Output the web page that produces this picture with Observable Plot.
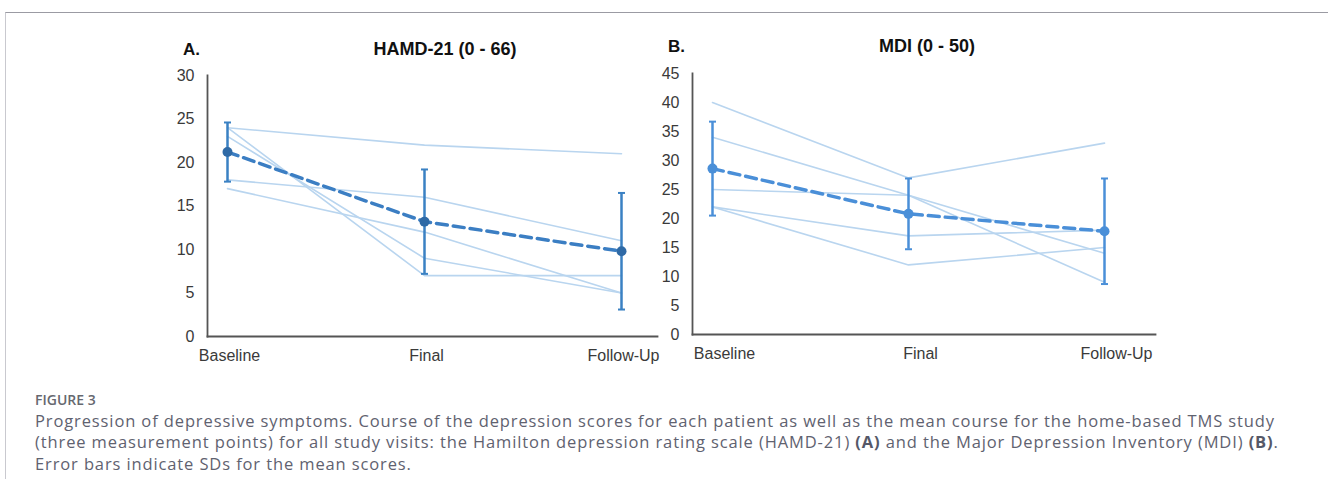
<!DOCTYPE html>
<html>
<head>
<meta charset="utf-8">
<script src="https://cdn.jsdelivr.net/npm/d3@7"></script>
<script src="https://cdn.jsdelivr.net/npm/@observablehq/plot@0.6"></script>
<style>
  html, body { margin: 0; padding: 0; background: #fff; }
  #root { position: relative; width: 1328px; height: 490px; overflow: hidden; background: #fff; }
  #frameBox { position: absolute; left: 5px; top: 12px; width: 1400px; height: 466px;
              border-top: 1px solid #9b9ba3; border-left: 1px solid #c9c9cf; }
  .panel { position: absolute; top: 30px; }
  .ttl { position: absolute; font-family: "Liberation Sans", Arial, sans-serif; font-weight: bold;
         font-size: 18px; color: #111; line-height: 1; white-space: nowrap; }
  .cap { position: absolute; left: 35px; font-family: "Open Sans", sans-serif; color: #5f6270;
         white-space: nowrap; line-height: 1; }
  .cap b { font-weight: 700; color: #555868; }
  #figlab { top: 393px; font-size: 14px; font-weight: 600; color: #66686f; }
  .panel svg text { font-size: 16px; }
</style>
</head>
<body>
<div id="root">
  <div id="frameBox"></div>
  <div class="ttl" style="left:183px; top:41px; font-size:17px;">A.</div>
  <div class="ttl" style="left:445px; top:40px; transform:translateX(-50%);">HAMD-21 (0 - 66)</div>
  <div class="ttl" style="left:668px; top:38px; font-size:17px;">B.</div>
  <div class="ttl" style="left:927px; top:37px; transform:translateX(-50%);">MDI (0 - 50)</div>
  <div id="panelA" class="panel" style="left:140px;"></div>
  <div id="panelB" class="panel" style="left:640px;"></div>
  <div class="cap" id="figlab">FIGURE 3</div>
  <div class="cap capline" id="cap1" style="top:413px;">Progression of depressive symptoms. Course of the depression scores for each patient as well as the mean course for the home-based TMS study</div>
  <div class="cap capline" id="cap2" style="top:434px;">(three measurement points) for all study visits: the Hamilton depression rating scale (HAMD-21) <b>(A)</b> and the Major Depression Inventory (MDI) <b>(B)</b>.</div>
  <div class="cap capline" id="cap3" style="top:456px;">Error bars indicate SDs for the mean scores.</div>
</div>
<script>
// ---------------- data ----------------
const timepoints = ["Baseline", "Final", "Follow-Up"];

// HAMD-21 individual patients (Baseline, Final, Follow-Up)
const hamdPatient1 = [24, 22, 21];
const hamdPatient2 = [24, 7, 7];
const hamdPatient3 = [23, 9, 5];
const hamdPatient4 = [18, 16, 11];
const hamdPatient5 = [17, 12, 5];
const hamdMean = [21.2, 13.2, 9.8];
const hamdSD = [3.4, 6.0, 6.7];
const hamdTicks = [0, 5, 10, 15, 20, 25, 30];

// MDI individual patients
const mdiPatient1 = [40, 27, 33];
const mdiPatient2 = [34, 24, 9];
const mdiPatient3 = [25, 24, 14];
const mdiPatient4 = [22, 17, 18];
const mdiPatient5 = [22, 12, 15];
const mdiMean = [28.6, 20.8, 17.8];
const mdiSD = [8.1, 6.1, 9.1];
const mdiTicks = [0, 5, 10, 15, 20, 25, 30, 35, 40, 45];

// ---------------- helpers ----------------
const capSymbol = {
  draw(ctx, size) {
    const w = Math.sqrt(size / Math.PI);
    ctx.moveTo(-w, 0);
    ctx.lineTo(w, 0);
  }
};

function rowsFrom(patients) {
  return patients.flatMap((vals, p) => vals.map((v, i) => ({patient: p, t: timepoints[i], v})));
}
function meanRowsFrom(mean, sd) {
  return timepoints.map((t, i) => ({t, m: mean[i], lo: mean[i] - sd[i], hi: mean[i] + sd[i]}));
}

function panel({patients, mean, sd, ticks, domain, width, height, mL, mR, mT, mB, inL, inR, xdx,
                lineColor, meanColor, dotColor, errColor}) {
  const rows = rowsFrom(patients);
  const mrows = meanRowsFrom(mean, sd);
  return Plot.plot({
    width, height,
    marginLeft: mL, marginRight: mR, marginTop: mT, marginBottom: mB,
    style: {background: "transparent", fontFamily: "'Liberation Sans', Arial, sans-serif", fontSize: "16px", color: "#3a3a3a", overflow: "visible"},
    x: {type: "point", domain: timepoints, padding: 0, insetLeft: inL, insetRight: inR},
    y: {domain, nice: false},
    marks: [
      Plot.line(rows, {x: "t", y: "v", z: "patient", stroke: lineColor, strokeWidth: 1.6}),
      Plot.ruleX(mrows, {x: "t", y1: "lo", y2: "hi", stroke: errColor, strokeWidth: 2.5}),
      Plot.dot(mrows, {x: "t", y: "lo", symbol: capSymbol, r: 3.5, fill: "none", stroke: errColor, strokeWidth: 2}),
      Plot.dot(mrows, {x: "t", y: "hi", symbol: capSymbol, r: 3.5, fill: "none", stroke: errColor, strokeWidth: 2}),
      Plot.line(mrows, {x: "t", y: "m", stroke: meanColor, strokeWidth: 3.5, strokeDasharray: "11,6"}),
      Plot.dot(mrows, {x: "t", y: "m", r: 5, fill: dotColor, stroke: "none"}),
      Plot.frame({anchor: "left", stroke: "#555", strokeWidth: 1.8}),
      Plot.frame({anchor: "bottom", stroke: "#555", strokeWidth: 1.8}),
      Plot.axisY({ticks, tickSize: 0, tickPadding: 13, fontSize: 16, label: null}),
      Plot.axisX({tickSize: 0, tickPadding: 13, fontSize: 16, label: null, dx: xdx})
    ]
  });
}

document.getElementById("panelA").appendChild(panel({
  patients: [hamdPatient1, hamdPatient2, hamdPatient3, hamdPatient4, hamdPatient5],
  mean: hamdMean, sd: hamdSD, ticks: hamdTicks, domain: [0, 30],
  width: 530, height: 345, mL: 67, mR: 13, mT: 45, mB: 39, inL: 20, inR: 36, xdx: 2,
  lineColor: "#b9d5ef", meanColor: "#3b7ec3", dotColor: "#2f6aa6", errColor: "#3a81c3"
}));

document.getElementById("panelB").appendChild(panel({
  patients: [mdiPatient1, mdiPatient2, mdiPatient3, mdiPatient4, mdiPatient5],
  mean: mdiMean, sd: mdiSD, ticks: mdiTicks, domain: [0, 45],
  width: 528, height: 345, mL: 52, mR: 13, mT: 43, mB: 41, inL: 20, inR: 51, xdx: 12,
  lineColor: "#b9d5ef", meanColor: "#4a8fd8", dotColor: "#4a8fd8", errColor: "#4a8fd8"
}));

// Fit caption text width (line 1 spans x 35 -> 1275 in the reference)
(function fitCaption() {
  const size = 16.5;
  const lines = document.querySelectorAll(".capline");
  lines.forEach(el => { el.style.fontSize = size + "px"; });
  const l1 = document.getElementById("cap1");
  const w = l1.getBoundingClientRect().width;
  const n = l1.textContent.length;
  const ls = (1240 - w) / n;
  lines.forEach(el => { el.style.letterSpacing = ls.toFixed(3) + "px"; });
})();
</script>
</body>
</html>
